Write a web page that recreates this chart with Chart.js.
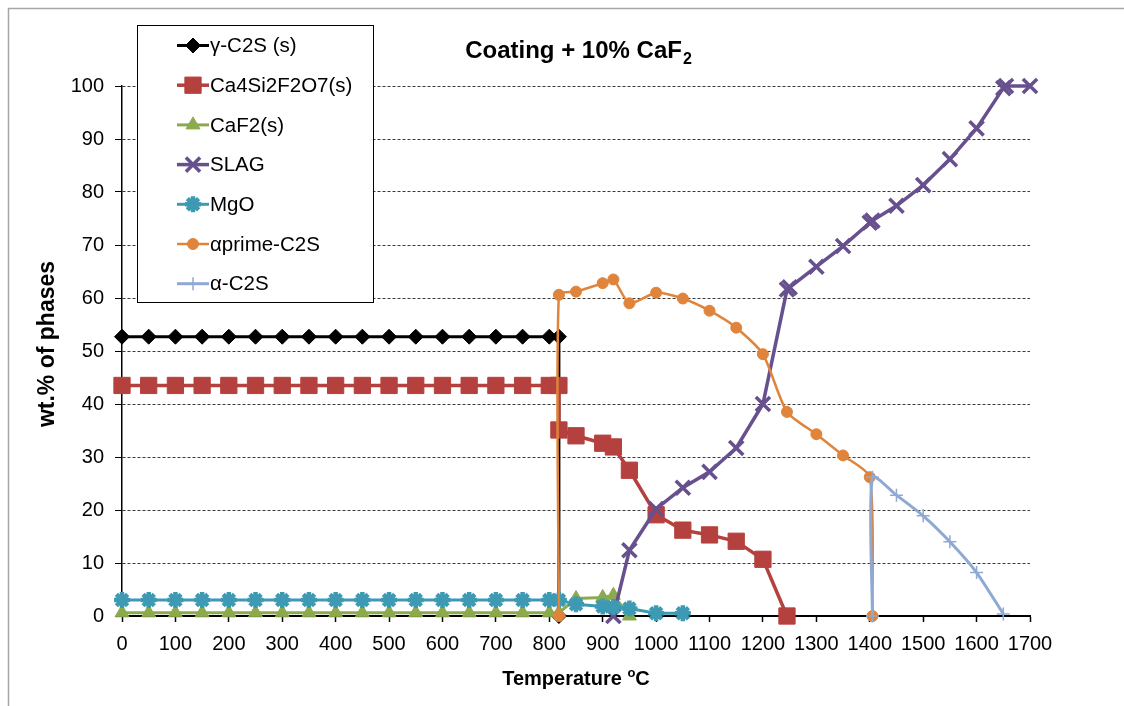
<!DOCTYPE html>
<html>
<head>
<meta charset="utf-8">
<script src="https://cdn.jsdelivr.net/npm/chart.js@4.4.1/dist/chart.umd.min.js"></script>
<style>
  html, body { margin: 0; padding: 0; background: #fff; }
  #wrap { position: relative; width: 1124px; height: 706px; }
</style>
</head>
<body>
<div id="wrap"><canvas id="phaseChart" width="1124" height="706"></canvas></div>
<script>
// Temperature axis ticks
const xTicks = [0, 100, 200, 300, 400, 500, 600, 700, 800, 900, 1000, 1100, 1200, 1300, 1400, 1500, 1600, 1700];
const yTicks = [0, 10, 20, 30, 40, 50, 60, 70, 80, 90, 100];

// gamma-C2S(s)
const gammaT = [0, 50, 100, 150, 200, 250, 300, 350, 400, 450, 500, 550, 600, 650, 700, 750, 800, 818, 818];
const gammaW = [52.7, 52.7, 52.7, 52.7, 52.7, 52.7, 52.7, 52.7, 52.7, 52.7, 52.7, 52.7, 52.7, 52.7, 52.7, 52.7, 52.7, 52.7, 0];

// Ca4Si2F2O7(s)
const cuspT = [0, 50, 100, 150, 200, 250, 300, 350, 400, 450, 500, 550, 600, 650, 700, 750, 800, 818, 818, 850, 900, 920, 950, 1000, 1050, 1100, 1150, 1200, 1245];
const cuspW = [43.5, 43.5, 43.5, 43.5, 43.5, 43.5, 43.5, 43.5, 43.5, 43.5, 43.5, 43.5, 43.5, 43.5, 43.5, 43.5, 43.5, 43.5, 35.1, 34.0, 32.6, 31.9, 27.5, 19.1, 16.2, 15.3, 14.1, 10.7, 0];

// CaF2(s)
const caf2T = [0, 50, 100, 150, 200, 250, 300, 350, 400, 450, 500, 550, 600, 650, 700, 750, 800, 818, 850, 900, 920, 950];
const caf2W = [0.6, 0.6, 0.6, 0.6, 0.6, 0.6, 0.6, 0.6, 0.6, 0.6, 0.6, 0.6, 0.6, 0.6, 0.6, 0.6, 0.6, 0.6, 3.3, 3.5, 3.9, 0];

// SLAG
const slagT = [920, 950, 1000, 1050, 1100, 1150, 1200, 1245, 1250, 1300, 1350, 1400, 1405, 1450, 1500, 1550, 1600, 1650, 1655, 1700];
const slagW = [0, 12.4, 20.2, 24.2, 27.2, 31.7, 40.0, 61.6, 62.0, 65.9, 69.8, 74.2, 74.6, 77.4, 81.3, 86.2, 92.0, 99.6, 100, 100];

// MgO
const mgoT = [0, 50, 100, 150, 200, 250, 300, 350, 400, 450, 500, 550, 600, 650, 700, 750, 800, 818, 850, 900, 920, 950, 1000, 1050];
const mgoW = [3.0, 3.0, 3.0, 3.0, 3.0, 3.0, 3.0, 3.0, 3.0, 3.0, 3.0, 3.0, 3.0, 3.0, 3.0, 3.0, 3.0, 3.0, 2.2, 1.8, 1.7, 1.4, 0.5, 0.5];

// alpha prime-C2S
const aprimeT = [818, 818, 850, 900, 920, 950, 1000, 1050, 1100, 1150, 1200, 1245, 1300, 1350, 1400, 1405];
const aprimeW = [0, 60.6, 61.2, 62.8, 63.5, 59.0, 61.0, 59.9, 57.6, 54.4, 49.4, 38.5, 34.3, 30.3, 26.2, 0];

// alpha-C2S
const alphaT = [1405, 1405, 1450, 1500, 1550, 1600, 1650];
const alphaW = [0, 26.2, 22.8, 18.9, 14.0, 8.2, 0.4];

const FONT = "'Liberation Sans', Arial, sans-serif";

function pts(xs, ys) {
    return xs.map((x, i) => ({ x: x, y: ys[i] }));
}

function series(label, xs, ys, color, style, extra) {
    return Object.assign({
        label: label,
        data: pts(xs, ys),
        borderColor: color,
        backgroundColor: color,
        pointBackgroundColor: color,
        pointBorderColor: color,
        pointStyle: style,
        borderWidth: 3,
        pointRadius: 6,
        pointBorderWidth: 1,
        tension: 0,
        clip: false
    }, extra || {});
}

const datasets = [
    series('γ-C2S (s)', gammaT, gammaW, '#000000', 'rectRot', { pointRadius: 7.5 }),
    series('Ca4Si2F2O7(s)', cuspT, cuspW, '#B5413E', 'rect', { pointRadius: 11.5, borderWidth: 3.5 }),
    series('CaF2(s)', caf2T, caf2W, '#8BAA4E', 'triangle', { pointRadius: 8 }),
    series('SLAG', slagT, slagW, '#67508E', 'crossRot', { pointRadius: 10, pointBorderWidth: 3.5, borderWidth: 3.5 }),
    series('MgO', mgoT, mgoW, '#3E9AB3', 'star', { pointRadius: 8, pointBorderWidth: 4.5 }),
    series('αprime-C2S', aprimeT, aprimeW, '#E0843B', 'circle', { pointRadius: 5.5, borderWidth: 2.5, tension: 0.22 }),
    series('α-C2S', alphaT, alphaW, '#8EA9D4', 'cross', { pointRadius: 6.5, pointBorderWidth: 1.5, tension: 0.22 })
];
// later series drawn on top, like the original
datasets.forEach((d, i) => { d.order = datasets.length - i; });

// frame, title, axis titles and the boxed legend
const decorations = {
    id: 'decorations',
    beforeDraw(chart) {
        const ctx = chart.ctx;
        ctx.save();
        ctx.fillStyle = '#fff';
        ctx.fillRect(0, 0, chart.width, chart.height);
        ctx.strokeStyle = '#a6a6a6';
        ctx.lineWidth = 1.5;
        ctx.beginPath();
        ctx.moveTo(8.5, chart.height + 5);
        ctx.lineTo(8.5, 8.5);
        ctx.lineTo(chart.width + 5, 8.5);
        ctx.stroke();
        ctx.restore();
    },
    afterDraw(chart) {
        const ctx = chart.ctx;
        ctx.save();
        ctx.fillStyle = '#000';
        ctx.textBaseline = 'alphabetic';

        // title with subscript
        ctx.font = 'bold 24px ' + FONT;
        const t1 = 'Coating + 10% CaF';
        const w1 = ctx.measureText(t1).width;
        ctx.font = 'bold 16px ' + FONT;
        const w2 = ctx.measureText('2').width;
        let tx = 578 - (w1 + w2) / 2;
        ctx.font = 'bold 24px ' + FONT;
        ctx.fillText(t1, tx, 58);
        ctx.font = 'bold 16px ' + FONT;
        ctx.fillText('2', tx + w1 + 1, 64);

        // x title with superscript
        ctx.font = 'bold 20px ' + FONT;
        const a = 'Temperature ';
        const wa = ctx.measureText(a).width;
        const wc = ctx.measureText('C').width;
        ctx.font = 'bold 13px ' + FONT;
        const wo = ctx.measureText('o').width;
        let ax = 576 - (wa + wo + wc) / 2;
        ctx.font = 'bold 20px ' + FONT;
        ctx.fillText(a, ax, 685);
        ctx.font = 'bold 13px ' + FONT;
        ctx.fillText('o', ax + wa, 677);
        ctx.font = 'bold 20px ' + FONT;
        ctx.fillText('C', ax + wa + wo, 685);

        // y title
        ctx.translate(54, 344);
        ctx.rotate(-Math.PI / 2);
        ctx.textAlign = 'center';
        ctx.font = 'bold 23px ' + FONT;
        ctx.fillText('wt.% of phases', 0, 0);
        ctx.restore();

        // legend box
        ctx.save();
        ctx.fillStyle = '#fff';
        ctx.fillRect(137, 25, 236, 277);
        ctx.strokeStyle = '#000';
        ctx.lineWidth = 1;
        ctx.strokeRect(137.5, 25.5, 236, 277);
        chart.data.datasets.forEach((d, i) => {
            const y = 45.5 + i * 39.7;
            ctx.strokeStyle = d.borderColor;
            ctx.lineWidth = d.borderWidth;
            ctx.beginPath();
            ctx.moveTo(177, y);
            ctx.lineTo(209, y);
            ctx.stroke();
            ctx.fillStyle = d.pointBackgroundColor;
            ctx.strokeStyle = d.pointBorderColor;
            ctx.lineWidth = d.pointBorderWidth;
            if (Chart.helpers && Chart.helpers.drawPoint) {
                Chart.helpers.drawPoint(ctx, {
                    pointStyle: d.pointStyle,
                    radius: d.pointRadius,
                    rotation: 0,
                    borderWidth: d.pointBorderWidth
                }, 193, y);
            }
            ctx.fillStyle = '#000';
            ctx.font = '20.5px ' + FONT;
            ctx.textBaseline = 'middle';
            ctx.fillText(d.label, 210, y + 1);
        });
        ctx.restore();
    }
};

new Chart(document.getElementById('phaseChart'), {
    type: 'line',
    data: { datasets: datasets },
    options: {
        responsive: false,
        animation: false,
        layout: { padding: { top: 86, right: 94, left: 0, bottom: 0 } },
        plugins: {
            legend: { display: false },
            tooltip: { enabled: false },
            title: { display: false }
        },
        scales: {
            x: {
                type: 'linear',
                min: 0,
                max: 1700,
                afterBuildTicks: scale => { scale.ticks = xTicks.map(v => ({ value: v })); },
                afterFit: scale => { scale.height = 90; },
                ticks: {
                    color: '#000',
                    font: { family: FONT, size: 20 },
                    padding: 10,
                    maxRotation: 0,
                    autoSkip: false,
                    callback: v => String(v)
                },
                grid: {
                    drawOnChartArea: false,
                    drawTicks: true,
                    tickLength: 6,
                    tickColor: '#000',
                    tickWidth: 1.5
                },
                border: { color: '#000', width: 2 }
            },
            y: {
                type: 'linear',
                min: 0,
                max: 100,
                afterBuildTicks: scale => { scale.ticks = yTicks.map(v => ({ value: v })); },
                afterFit: scale => { scale.width = 122; },
                ticks: {
                    color: '#000',
                    font: { family: FONT, size: 20 },
                    padding: 11,
                    callback: v => String(v)
                },
                grid: {
                    color: ctx => ctx.tick && ctx.tick.value === 0 ? 'rgba(0,0,0,0)' : '#3a3a3a',
                    lineWidth: 1,
                    drawTicks: true,
                    tickLength: 7,
                    tickColor: '#000',
                    tickBorderDash: []
                },
                border: { color: '#000', width: 1.5, dash: [3, 2] }
            }
        }
    },
    plugins: [decorations]
});
</script>
</body>
</html>
